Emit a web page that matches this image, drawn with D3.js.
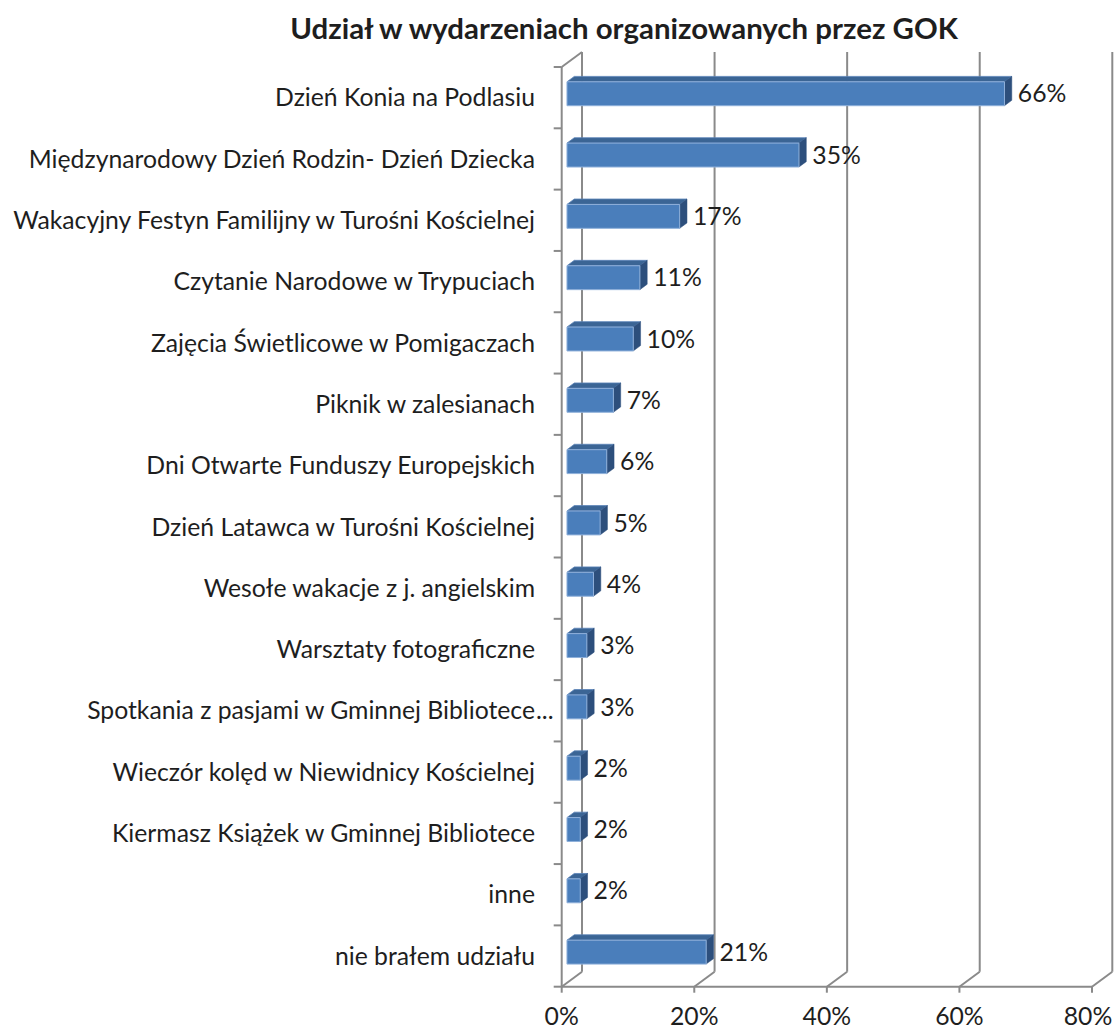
<!DOCTYPE html>
<html>
<head>
<meta charset="utf-8">
<script src="https://cdn.jsdelivr.net/npm/d3@7"></script>
<style>
body { margin: 0; background: #fff; }
text { font-family: Lato, "Liberation Sans", sans-serif; fill: #1e1e1e; }
</style>
</head>
<body>
<script>
//chart data
var chartTitle = "Udział w wydarzeniach organizowanych przez GOK";
var categories = [
    "Dzień Konia na Podlasiu",
    "Międzynarodowy Dzień Rodzin- Dzień Dziecka",
    "Wakacyjny Festyn Familijny w Turośni Kościelnej",
    "Czytanie Narodowe w Trypuciach",
    "Zajęcia Świetlicowe w Pomigaczach",
    "Piknik w zalesianach",
    "Dni Otwarte Funduszy Europejskich",
    "Dzień Latawca w Turośni Kościelnej",
    "Wesołe wakacje z j. angielskim",
    "Warsztaty fotograficzne",
    "Spotkania z pasjami w Gminnej Bibliotece...",
    "Wieczór kolęd w Niewidnicy Kościelnej",
    "Kiermasz Książek w Gminnej Bibliotece",
    "inne",
    "nie brałem udziału"
];
var values = [66, 35, 17, 11, 10, 7, 6, 5, 4, 3, 3, 2, 2, 2, 21];
var ticks = [0, 20, 40, 60, 80];

//canvas
var width = 1114,
    height = 1032;

var svg = d3.select("body").append("svg")
    .attr("width", width)
    .attr("height", height);

//front plane scales, depth goes up and to the right
var xScale = d3.scaleLinear()
    .domain([0, 80])
    .range([561.7, 1092]);

var yScale = d3.scaleBand()
    .domain(categories)
    .range([67, 986.7])
    .paddingInner(0.61)
    .paddingOuter(0.305);

var DX = 20.3,
    DY = 15;
var yTop = 67,
    yBottom = 986.7;

function proj(v, y, d) {
    return [xScale(v) + d * DX, y - d * DY];
}

var gridColor = "#8a8a8a";
var grid = svg.append("g").attr("fill", "none").attr("stroke", gridColor).attr("stroke-width", 2);

//back wall gridlines
grid.selectAll(".back")
    .data(ticks)
    .enter().append("line")
    .attr("x1", d => proj(d, yTop, 1)[0])
    .attr("x2", d => proj(d, yBottom, 1)[0])
    .attr("y1", proj(0, yTop, 1)[1])
    .attr("y2", proj(0, yBottom, 1)[1]);

//floor gridlines
grid.selectAll(".floor")
    .data(ticks)
    .enter().append("line")
    .attr("x1", d => proj(d, yBottom, 1)[0])
    .attr("y1", d => proj(d, yBottom, 1)[1])
    .attr("x2", d => proj(d, yBottom, 0)[0])
    .attr("y2", d => proj(d, yBottom, 0)[1]);

//floor front edge + ticks
grid.append("line")
    .attr("x1", xScale(0)).attr("x2", xScale(80))
    .attr("y1", yBottom).attr("y2", yBottom);
grid.selectAll(".xtick")
    .data(ticks)
    .enter().append("line")
    .attr("x1", d => xScale(d)).attr("x2", d => xScale(d))
    .attr("y1", yBottom).attr("y2", yBottom + 6);

//left wall: front edge, top edge, category ticks
grid.append("line")
    .attr("x1", xScale(0)).attr("x2", xScale(0))
    .attr("y1", yTop).attr("y2", yBottom);
grid.append("line")
    .attr("x1", proj(0, yTop, 0)[0]).attr("y1", proj(0, yTop, 0)[1])
    .attr("x2", proj(0, yTop, 1)[0]).attr("y2", proj(0, yTop, 1)[1]);
grid.selectAll(".ytick")
    .data(d3.range(categories.length + 1))
    .enter().append("line")
    .attr("x1", xScale(0) - 8).attr("x2", xScale(0))
    .attr("y1", i => yTop + i * yScale.step())
    .attr("y2", i => yTop + i * yScale.step());

//bars
var d1 = 0.26,
    d2 = 0.62;
var bw = yScale.bandwidth();

function poly(pts) {
    return "M" + pts.map(p => p[0] + "," + p[1]).join("L") + "Z";
}

var bars = svg.append("g").selectAll("g")
    .data(categories.map((c, i) => ({ cat: c, value: values[i] })))
    .enter().append("g");

bars.append("path")
    .attr("fill", "#3b6595")
    .attr("stroke", "#5a83b8").attr("stroke-width", 0.8)
    .attr("d", d => {
        var y = yScale(d.cat);
        return poly([proj(0, y, d1), proj(d.value, y, d1), proj(d.value, y, d2), proj(0, y, d2)]);
    });

bars.append("path")
    .attr("fill", "#2d4f7c")
    .attr("stroke", "#2d4f7c").attr("stroke-width", 0.5)
    .attr("d", d => {
        var y = yScale(d.cat);
        return poly([proj(d.value, y, d1), proj(d.value, y, d2), proj(d.value, y + bw, d2), proj(d.value, y + bw, d1)]);
    });

bars.append("path")
    .attr("fill", "#4a7ebb")
    .attr("stroke", "#8fb0da").attr("stroke-width", 1)
    .attr("d", d => {
        var y = yScale(d.cat);
        return poly([proj(0, y, d1), proj(d.value, y, d1), proj(d.value, y + bw, d1), proj(0, y + bw, d1)]);
    });

//data labels
var labelSize = 21;
bars.append("text")
    .attr("x", d => proj(d.value, 0, d2)[0] + 6)
    .attr("y", d => proj(0, yScale(d.cat) + bw / 2, d1)[1])
    .attr("dy", "0.35em")
    .style("font-size", labelSize + "px")
    .text(d => d.value + "%");

//category labels, the truncated one keeps its dots past the right edge
var catLabels = svg.append("g").selectAll("text")
    .data(categories)
    .enter().append("text")
    .attr("x", 535)
    .attr("y", d => yScale(d) + bw / 2)
    .attr("dy", "0.35em")
    .attr("text-anchor", "end")
    .style("font-size", labelSize + "px")
    .text(d => d.replace("...", ""));

//fit font size so the widest label spans ~522px
var widest = d3.max(catLabels.nodes(), n => n.getComputedTextLength());
var catSize = labelSize * 522 / widest;
catLabels.style("font-size", catSize + "px");
bars.selectAll("text").style("font-size", catSize + "px");

categories.forEach(function(c) {
    if (c.endsWith("...")) {
        svg.append("text")
            .attr("x", 536)
            .attr("y", yScale(c) + bw / 2)
            .attr("dy", "0.35em")
            .style("font-size", catSize + "px")
            .text("...");
    }
});

//x tick labels
svg.append("g").selectAll("text")
    .data(ticks)
    .enter().append("text")
    .attr("x", d => Math.min(xScale(d), 1088))
    .attr("y", 1016)
    .attr("dy", "0.35em")
    .attr("text-anchor", "middle")
    .style("font-size", catSize + "px")
    .text(d => d + "%");

//title
var t = svg.append("text")
    .attr("x", 624)
    .attr("y", 29)
    .attr("dy", "0.35em")
    .attr("text-anchor", "middle")
    .style("font-size", "24px")
    .style("font-weight", "bold")
    .text(chartTitle);
var tw = t.node().getComputedTextLength();
t.style("font-size", (24 * 668 / tw) + "px");
</script>
</body>
</html>
